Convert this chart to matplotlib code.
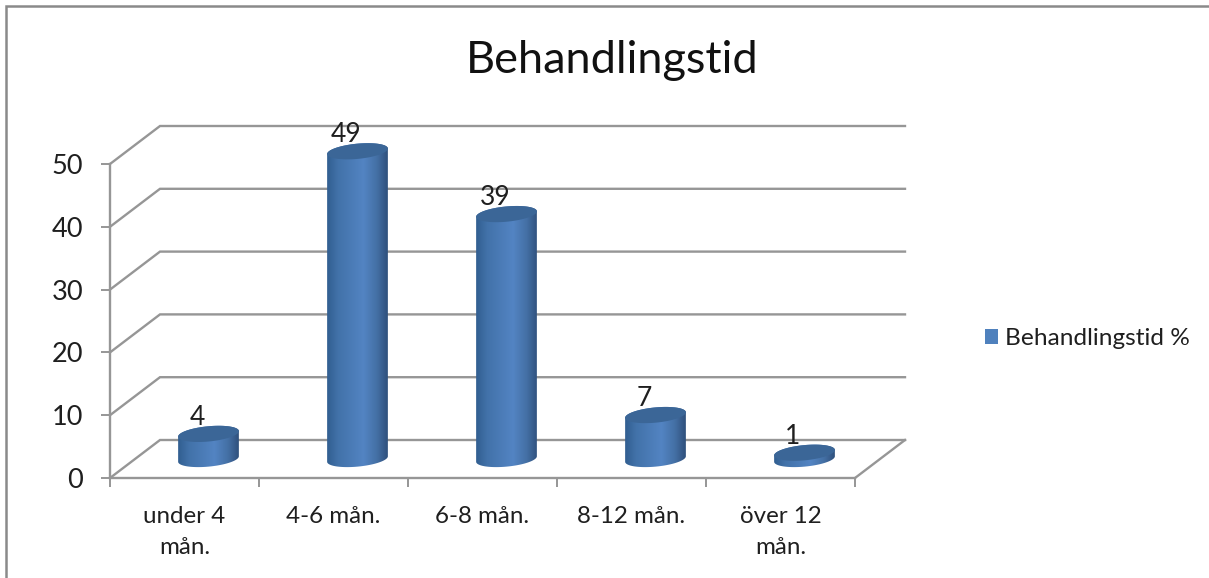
import numpy as np
import matplotlib
matplotlib.use("Agg")
import matplotlib.pyplot as plt
from matplotlib.patches import PathPatch, Patch
from matplotlib.path import Path
from matplotlib.colors import LinearSegmentedColormap
from matplotlib.lines import Line2D

categories = ["under 4\nmån.", "4-6 mån.", "6-8 mån.", "8-12 mån.", "över 12\nmån."]
values = [4, 49, 39, 7, 1]
y_ticks = [0, 10, 20, 30, 40, 50]
title = "Behandlingstid"
series_name = "Behandlingstid %"

W, H = 1209, 578
plt.rcParams["font.family"] = ["Lato", "DejaVu Sans"]
GRID = "#969696"
TEXT = "#1f1f1f"

fig = plt.figure(figsize=(W / 100, H / 100), dpi=100, facecolor="white")
L, R, B, T = 110, 855, 478, 164
ax = fig.add_axes([L / W, 1 - B / H, (R - L) / W, (B - T) / H])
ax.set_xlim(-0.5, len(categories) - 0.5)
ax.set_ylim(0, 50)
ax.patch.set_visible(False)

sx = (R - L) / len(categories)   # px per category
sy = (B - T) / 50                # px per value unit
depth_x = 50 / sx
depth_y = 38 / sy
x0, x1 = ax.get_xlim()

# walls and floor
for v in y_ticks:
    ax.plot([x0, x0 + depth_x, x1 + depth_x], [v, v + depth_y, v + depth_y],
            color=GRID, lw=1.7, clip_on=False, zorder=1, solid_joinstyle="miter")
ax.plot([x1, x1 + depth_x], [0, depth_y], color=GRID, lw=1.7, clip_on=False, zorder=1)

# axes
for s in ("top", "right"):
    ax.spines[s].set_visible(False)
for s in ("left", "bottom"):
    ax.spines[s].set_color(GRID)
    ax.spines[s].set_linewidth(1.7)
    ax.spines[s].set_zorder(2)
ax.set_yticks(y_ticks)
ax.set_xticks(np.arange(len(categories) + 1) - 0.5)
ax.set_xticklabels([])
ax.set_xticks(np.arange(len(categories)), minor=True)
ax.set_xticklabels(categories, minor=True, fontsize=17.4, color=TEXT, linespacing=1.55)
ax.tick_params(axis="x", which="major", length=6.5, width=1.4, color=GRID)
ax.tick_params(axis="x", which="minor", length=0, pad=20.5)
ax.tick_params(axis="y", length=6.5, width=1.4, color=GRID, labelsize=19.5, labelcolor=TEXT, pad=13)

# cylinders
cmap = LinearSegmentedColormap.from_list(
    "cyl", [(0, "#315e90"), (0.18, "#4272a9"), (0.6, "#5384c3"),
            (0.82, "#4470a5"), (1, "#2f507c")])
a, b = 30.5, 7.6
tilt = np.deg2rad(5.5)


def ellipse(cx, v, t):
    px = a * np.cos(t)
    py = b * np.sin(t)
    return (cx + (px * np.cos(tilt) - py * np.sin(tilt)) / sx,
            v + (px * np.sin(tilt) + py * np.cos(tilt)) / sy)


gradient = np.linspace(0, 1, 256).reshape(1, -1)
for i, v in enumerate(values):
    cx = i + depth_x / 2 - 1 / sx
    base = depth_y / 2
    top = base + v
    t_low = np.linspace(np.pi, 2 * np.pi, 60)
    t_up = np.linspace(0, np.pi, 60)
    xb, yb = ellipse(cx, base, t_low)
    xt, yt = ellipse(cx, top, t_up)
    pts = np.column_stack([np.r_[xb, xt], np.r_[yb, yt]])
    body = PathPatch(Path(np.vstack([pts, pts[0]]), closed=True),
                     transform=ax.transData, fc="none", ec="none")
    ax.add_patch(body)
    body.set_clip_on(False)
    im = ax.imshow(gradient, cmap=cmap, aspect="auto", zorder=3,
                   extent=[cx - a / sx, cx + a / sx, base - 2 * b / sy, top + 2 * b / sy])
    im.set_clip_box(fig.bbox)
    im.set_clip_path(body)
    t_all = np.linspace(0, 2 * np.pi, 120)
    xe, ye = ellipse(cx, top, t_all)
    ax.fill(xe, ye, color="#3b6697", lw=0, zorder=4, clip_on=False)
    ax.annotate(str(v), xy=(i, v), xytext=(12.5 * 0.72, 35.5 * 0.72),
                textcoords="offset points", ha="center", va="center",
                fontsize=19, color=TEXT, zorder=5, annotation_clip=False)
ax.set_xlim(x0, x1)
ax.set_ylim(0, 50)

fig.text(612 / W, 1 - 60.5 / H, title, ha="center", va="center", fontsize=32.5, color="#111111")

fig.legend(handles=[Patch(facecolor="#4f81bd", edgecolor="none", label=series_name)],
           loc="center left", bbox_to_anchor=(985 / W, 1 - 338.5 / H), frameon=False,
           fontsize=17.6, labelcolor=TEXT, handlelength=0.55, handleheight=0.55,
           handletextpad=0.25, borderpad=0, borderaxespad=0)

# outer frame (top and left edges only)
fig.add_artist(Line2D([6 / W, 6 / W, 1], [0, 1 - 6 / H, 1 - 6 / H], color="#8a8a8a", lw=1.8,
                      transform=fig.transFigure, solid_joinstyle="miter"))

fig.savefig("out.png", dpi=100, facecolor="white")
